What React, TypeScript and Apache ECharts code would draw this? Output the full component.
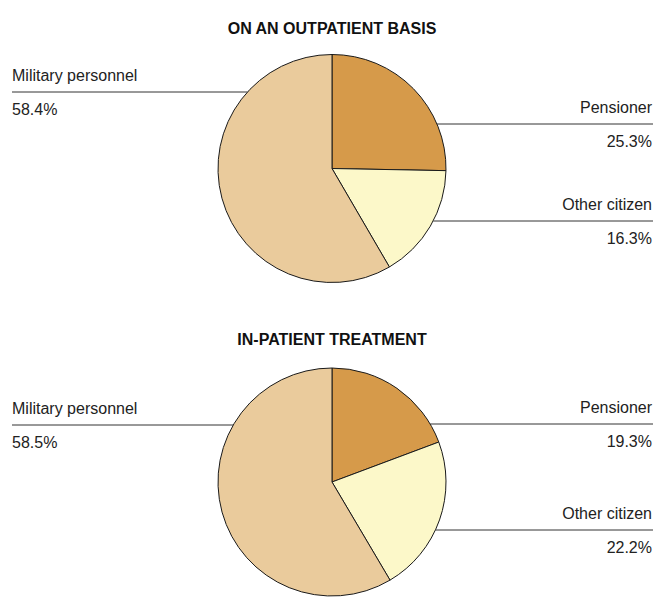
import React, { useEffect, useRef } from "react";
import * as echarts from "echarts";

// ---- Data ----
const categories = ["Pensioner", "Other citizen", "Military personnel"];
const outpatientShares = [25.3, 16.3, 58.4];
const inpatientShares = [19.3, 22.2, 58.5];
const chartTitles = ["ON AN OUTPATIENT BASIS", "IN-PATIENT TREATMENT"];

// ---- Layout / style ----
const W = 656;
const H = 612;
const PIE_CX = 332;
const PIE_CY = [168.5, 482];
const PIE_R = 114;
const TITLE_TOP = [20, 331];
// vertical offset of each label's leader line from the pie centre
const LABEL_DY = [
  [-44.5, 52.5, -76.5],
  [-58, 48, -57],
];
const LEFT_X = 12;
const RIGHT_X = 653;
const COLORS = ["#D69A4A", "#FCF8C9", "#EACB9C"];
const FONT = "'Liberation Sans', Arial, sans-serif";

export default function App() {
  const ref = useRef<HTMLDivElement>(null);

  useEffect(() => {
    document.body.style.margin = "0";
    if (!ref.current) return;
    const chart = echarts.init(ref.current, undefined, { renderer: "svg" });

    const makeSeries = (values: number[], si: number) => ({
      type: "pie",
      center: [PIE_CX, PIE_CY[si]],
      radius: PIE_R,
      startAngle: 90,
      clockwise: true,
      avoidLabelOverlap: false,
      silent: true,
      itemStyle: { borderColor: "#1a1a1a", borderWidth: 1 },
      data: values.map((v, i) => ({
        name: categories[i],
        value: v,
        itemStyle: { color: COLORS[i] },
      })),
      label: {
        show: true,
        position: "outside",
        fontFamily: FONT,
        color: "#222",
        formatter: (p: any) => `{n|${p.name}}\n{v|${Number(p.value).toFixed(1)}%}`,
        rich: {
          n: { fontSize: 16, lineHeight: 34, fontFamily: FONT, color: "#222" },
          v: { fontSize: 16, lineHeight: 34, fontFamily: FONT, color: "#222" },
        },
      },
      labelLine: {
        show: true,
        smooth: false,
        lineStyle: { color: "#333", width: 1 },
      },
      labelLayout: (params: any) => {
        const di = params.dataIndex;
        const cy = PIE_CY[si];
        const dy = LABEL_DY[si][di];
        const y = cy + dy;
        const half = Math.sqrt(PIE_R * PIE_R - dy * dy);
        const isLeft = categories[di] === "Military personnel";
        if (isLeft) {
          return {
            x: LEFT_X,
            y,
            align: "left",
            verticalAlign: "middle",
            labelLinePoints: [
              [LEFT_X, y],
              [PIE_CX - half, y],
              [PIE_CX - half, y],
            ],
          };
        }
        return {
          x: RIGHT_X - 1,
          y,
          align: "right",
          verticalAlign: "middle",
          labelLinePoints: [
            [RIGHT_X, y],
            [PIE_CX + half, y],
            [PIE_CX + half, y],
          ],
        };
      },
    });

    chart.setOption({
      animation: false,
      backgroundColor: "#ffffff",
      title: chartTitles.map((t, i) => ({
        text: t,
        left: PIE_CX,
        top: TITLE_TOP[i],
        textAlign: "center",
        padding: 0,
        textStyle: {
          fontFamily: FONT,
          fontSize: 16,
          fontWeight: "bold",
          color: "#111",
        },
      })),
      series: [makeSeries(outpatientShares, 0), makeSeries(inpatientShares, 1)],
    });

    return () => chart.dispose();
  }, []);

  return <div ref={ref} style={{ width: W, height: H }} />;
}
